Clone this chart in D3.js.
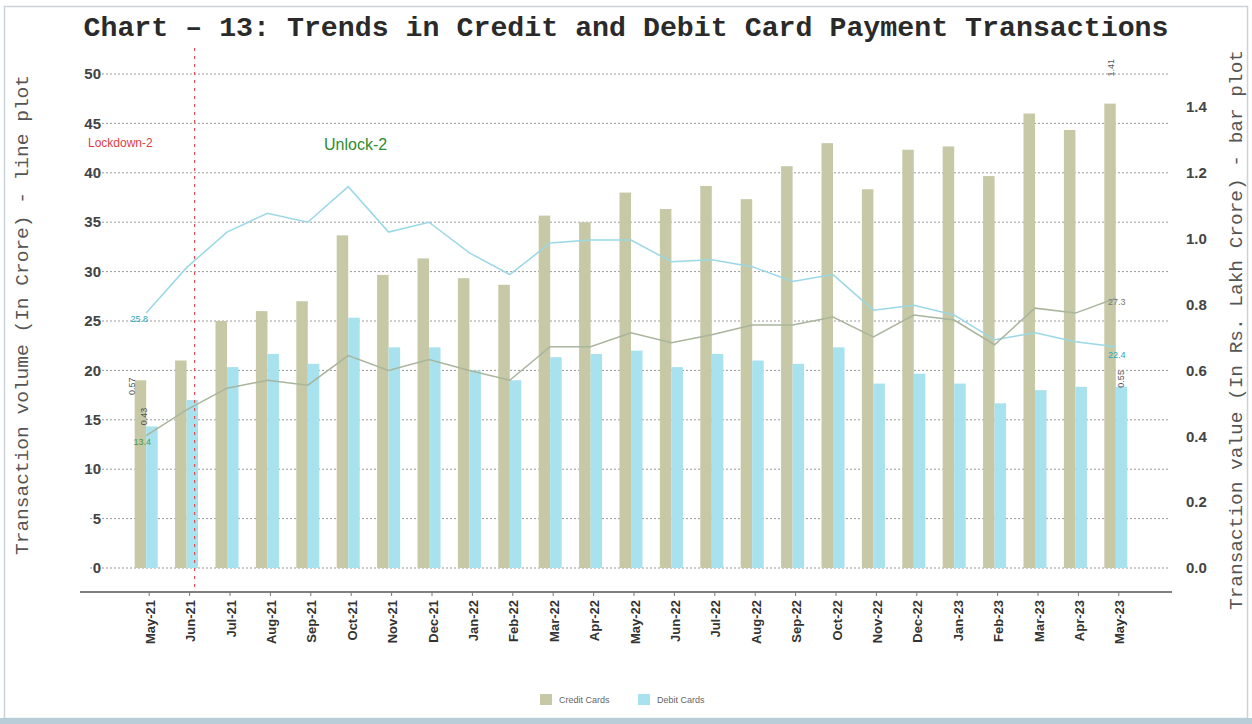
<!DOCTYPE html>
<html><head><meta charset="utf-8">
<script src="https://cdn.jsdelivr.net/npm/d3@7"></script>
<style>
html,body{margin:0;padding:0;background:#fff;}
svg{display:block;}
</style></head>
<body>
<svg id="c" width="1252" height="724"></svg>
<script>
const months = ["May-21","Jun-21","Jul-21","Aug-21","Sep-21","Oct-21","Nov-21","Dec-21","Jan-22","Feb-22","Mar-22","Apr-22","May-22","Jun-22","Jul-22","Aug-22","Sep-22","Oct-22","Nov-22","Dec-22","Jan-23","Feb-23","Mar-23","Apr-23","May-23"];
// bar values (Rs. Lakh Crore)
const creditValue = [0.57,0.63,0.75,0.78,0.81,1.01,0.89,0.94,0.88,0.86,1.07,1.05,1.14,1.09,1.16,1.12,1.22,1.29,1.15,1.27,1.28,1.19,1.38,1.33,1.41];
const debitValue  = [0.43,0.51,0.61,0.65,0.62,0.76,0.67,0.67,0.60,0.57,0.64,0.65,0.66,0.61,0.65,0.63,0.62,0.67,0.56,0.59,0.56,0.50,0.54,0.55,0.55];
// line values (Crore)
const creditVolume = [13.4,16.0,18.2,19.0,18.5,21.5,20.0,21.1,20.0,19.0,22.4,22.4,23.8,22.8,23.6,24.6,24.6,25.4,23.4,25.6,25.1,22.6,26.3,25.8,27.3];
const debitVolume  = [25.8,30.4,34.0,35.9,35.0,38.6,34.0,35.0,31.9,29.7,32.9,33.2,33.2,31.0,31.2,30.5,29.0,29.7,26.1,26.6,25.6,23.1,23.8,22.9,22.4];
const leftTicks = [0,5,10,15,20,25,30,35,40,45,50];
const rightTicks = [0,0.2,0.4,0.6,0.8,1.0,1.2,1.4];
const seriesNames = ["Credit Cards","Debit Cards"];

const C_CREDIT = "#c6c8a6", C_DEBIT = "#a8e2ee";
const L_CREDIT = "#a9b59c", L_DEBIT = "#9ad8e6";

const svg = d3.select("#c");
// frame
svg.append("rect").attr("x",4.5).attr("y",6.5).attr("width",1243).attr("height",712)
  .attr("fill","none").attr("stroke","#c9d3da").attr("stroke-width",1.5);
svg.append("rect").attr("x",0).attr("y",718).attr("width",1252).attr("height",6).attr("fill","#b9cdd8");

const x = d3.scaleBand().domain(months).range([126,1136]);
const cx = m => x(m) + x.bandwidth()/2;
const yL = d3.scaleLinear().domain([0,50]).range([568,74]);
const yR = d3.scaleLinear().domain([0,1.5]).range([568,74]);

// title
svg.append("text").attr("x",626).attr("y",36).attr("text-anchor","middle")
  .attr("font-family","'Liberation Mono', 'DejaVu Sans Mono', monospace").attr("font-weight","bold")
  .attr("font-size",27).attr("fill","#2a2a2a").attr("textLength",1085).attr("lengthAdjust","spacingAndGlyphs")
  .text("Chart – 13: Trends in Credit and Debit Card Payment Transactions");

// grid
svg.append("g").selectAll("line").data(leftTicks).join("line")
  .attr("x1",90).attr("x2",1170).attr("y1",d=>yL(d)).attr("y2",d=>yL(d))
  .attr("stroke","#9a9a9a").attr("stroke-width",1).attr("stroke-dasharray","2,2");

// left axis labels
svg.append("g").selectAll("text").data(leftTicks).join("text")
  .attr("x",101).attr("y",d=>yL(d)).attr("dy","0.35em").attr("text-anchor","end")
  .attr("font-family","Arial, 'Liberation Sans', sans-serif").attr("font-weight","bold")
  .attr("font-size",15).attr("fill","#444").text(d=>d);
// right axis labels
svg.append("g").selectAll("text").data(rightTicks).join("text")
  .attr("x",1186).attr("y",d=>yR(d)).attr("dy","0.35em").attr("text-anchor","start")
  .attr("font-family","Arial, 'Liberation Sans', sans-serif").attr("font-weight","bold")
  .attr("font-size",15).attr("fill","#444").text(d=>d3.format(".1f")(d));

// axis titles
svg.append("text").attr("transform","translate(28,315) rotate(-90)").attr("text-anchor","middle")
  .attr("font-family","'Liberation Mono', monospace").attr("font-size",18).attr("fill","#555")
  .attr("textLength",480).attr("lengthAdjust","spacingAndGlyphs")
  .text("Transaction volume (In Crore) - line plot");
svg.append("text").attr("transform","translate(1242,330) rotate(-90)").attr("text-anchor","middle")
  .attr("font-family","'Liberation Mono', monospace").attr("font-size",18).attr("fill","#555")
  .attr("textLength",560).attr("lengthAdjust","spacingAndGlyphs")
  .text("Transaction value (In Rs. Lakh Crore) - bar plot");

// bars
const bw = 11.5;
svg.append("g").selectAll("rect").data(months).join("rect")
  .attr("x",(m)=>cx(m)-bw).attr("width",bw)
  .attr("y",(m,i)=>yR(creditValue[i])).attr("height",(m,i)=>yR(0)-yR(creditValue[i]))
  .attr("fill",C_CREDIT);
svg.append("g").selectAll("rect").data(months).join("rect")
  .attr("x",(m)=>cx(m)).attr("width",bw)
  .attr("y",(m,i)=>yR(debitValue[i])).attr("height",(m,i)=>yR(0)-yR(debitValue[i]))
  .attr("fill",C_DEBIT);

// lines
const line = arr => d3.line().x((m)=>cx(m)).y((m,i)=>yL(arr[i]))(months);
svg.append("path").attr("d",line(debitVolume)).attr("fill","none").attr("stroke",L_DEBIT).attr("stroke-width",1.5);
svg.append("path").attr("d",line(creditVolume)).attr("fill","none").attr("stroke",L_CREDIT).attr("stroke-width",1.5);

// x axis
svg.append("line").attr("x1",80).attr("x2",1172).attr("y1",592).attr("y2",592).attr("stroke","#555").attr("stroke-width",1.5);
svg.append("g").selectAll("line").data(months).join("line")
  .attr("x1",m=>cx(m)+3).attr("x2",m=>cx(m)+3).attr("y1",592).attr("y2",596).attr("stroke","#777");
svg.append("g").selectAll("text").data(months).join("text")
  .attr("transform",m=>`translate(${cx(m)+4},600) rotate(-90)`).attr("dy","0.35em").attr("text-anchor","end")
  .attr("font-family","Arial, 'Liberation Sans', sans-serif").attr("font-weight","bold")
  .attr("font-size",13).attr("fill","#333").text(m=>m);

// lockdown marker
const lx = cx(months[1]) + 8;
svg.append("line").attr("x1",lx).attr("x2",lx).attr("y1",48).attr("y2",590)
  .attr("stroke","#e05050").attr("stroke-width",1.2).attr("stroke-dasharray","3,5");
svg.append("text").attr("x",88).attr("y",147).attr("font-family","Arial, 'Liberation Sans', sans-serif")
  .attr("font-size",12).attr("fill","#e04040").text("Lockdown-2");
svg.append("text").attr("x",324).attr("y",150).attr("font-family","Arial, 'Liberation Sans', sans-serif")
  .attr("font-size",16).attr("fill","#2e8b2e").text("Unlock-2");

// data labels
const first = months[0], last = months[months.length-1];
const lab = (xx,yy,txt,col,rot,size) => {
  const t = svg.append("text").attr("font-family","Arial, 'Liberation Sans', sans-serif")
    .attr("font-size",size||9).attr("fill",col).attr("text-anchor","middle").attr("dy","0.35em").text(txt);
  t.attr("transform",`translate(${xx},${yy})`+(rot?" rotate(-90)":""));
};
lab(cx(first)-7, yL(debitVolume[0])+6, d3.format(".1f")(debitVolume[0]), "#2aa8b8");
lab(cx(first)-4, yL(creditVolume[0])+6, d3.format(".1f")(creditVolume[0]), "#4a9a4a");
lab(cx(last)+1, yL(creditVolume[24])+4, d3.format(".1f")(creditVolume[24]), "#777");
lab(cx(last)+1, yL(debitVolume[24])+8, d3.format(".1f")(debitVolume[24]), "#2aa8b8");
lab(cx(first)-14, yR(creditValue[0])+6, d3.format(".2f")(creditValue[0]), "#555", true);
lab(cx(first)-2, yR(debitValue[0])-10, d3.format(".2f")(debitValue[0]), "#555", true);
lab(cx(last)-5, yR(creditValue[24])-36, d3.format(".2f")(creditValue[24]), "#555", true);
lab(cx(last)+5, yR(debitValue[24])-8, d3.format(".2f")(debitValue[24]), "#555", true);

// legend
const lg = svg.append("g").attr("transform","translate(540,700)");
seriesNames.forEach((n,i)=>{
  const g = lg.append("g").attr("transform",`translate(${i*98},0)`);
  g.append("rect").attr("x",0).attr("y",-6).attr("width",12).attr("height",11)
    .attr("fill",i===0?C_CREDIT:C_DEBIT);
  g.append("text").attr("x",19).attr("y",0).attr("dy","0.35em")
    .attr("font-family","Arial, 'Liberation Sans', sans-serif").attr("font-size",9).attr("fill","#666").text(n);
});
</script>
</body></html>
